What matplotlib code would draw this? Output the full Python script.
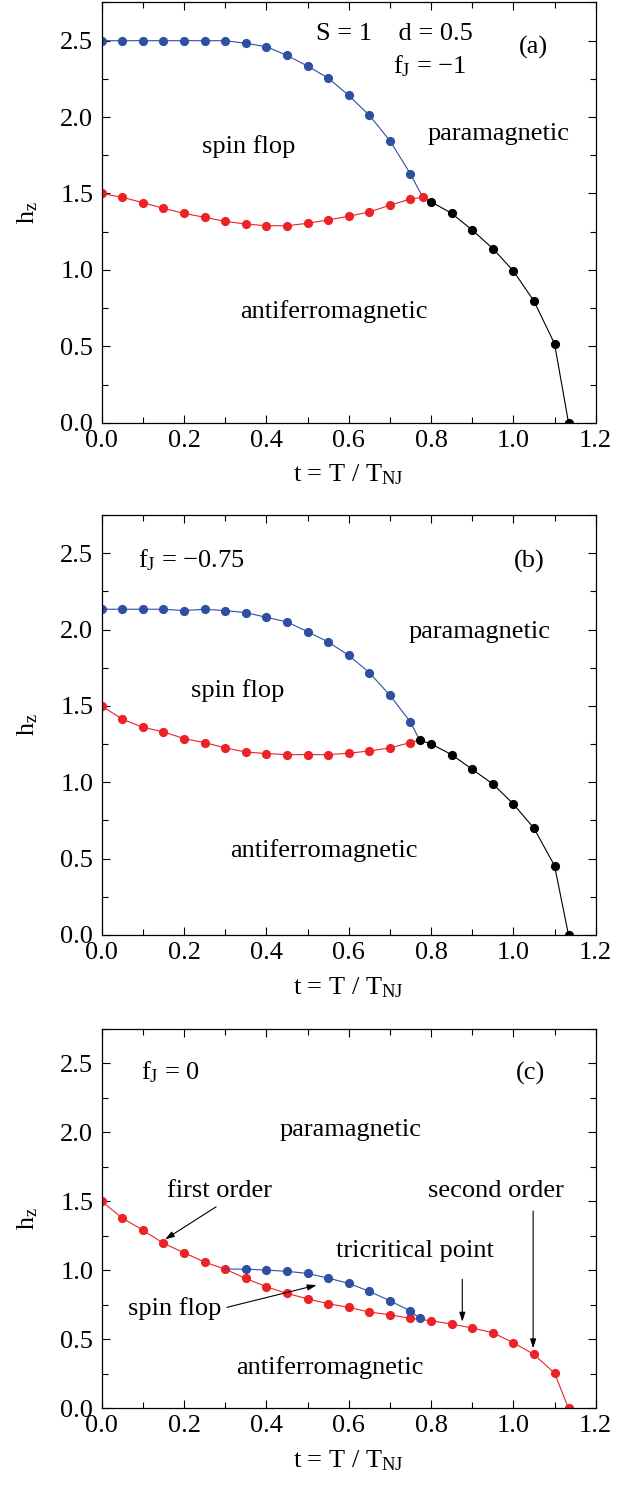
import matplotlib
matplotlib.use("Agg")
import matplotlib.pyplot as plt
from matplotlib.ticker import MultipleLocator

plt.rcParams['font.family'] = ['Liberation Serif', 'DejaVu Serif']
plt.rcParams['mathtext.fontset'] = 'custom'
plt.rcParams['mathtext.rm'] = 'Liberation Serif'
plt.rcParams['mathtext.it'] = 'Liberation Serif:italic'

BLUE = '#2F4FA2'
RED = '#EC2226'
BLACK = '#000000'

# ---------------- panel (a): f_J = -1 ----------------
a_blue_t = [0.0, 0.05, 0.10, 0.15, 0.20, 0.25, 0.30, 0.35, 0.40, 0.45, 0.50,
            0.55, 0.60, 0.65, 0.70, 0.75, 0.78]
a_blue_h = [2.50, 2.50, 2.50, 2.50, 2.50, 2.50, 2.50, 2.483, 2.461, 2.404, 2.334,
            2.256, 2.142, 2.012, 1.846, 1.628, 1.475]
a_red_t = [0.0, 0.05, 0.10, 0.15, 0.20, 0.25, 0.30, 0.35, 0.40, 0.45, 0.50,
           0.55, 0.60, 0.65, 0.70, 0.75, 0.78]
a_red_h = [1.50, 1.475, 1.44, 1.403, 1.370, 1.344, 1.318, 1.300, 1.289, 1.289, 1.305,
           1.327, 1.351, 1.379, 1.423, 1.464, 1.475]
a_black_t = [0.78, 0.80, 0.85, 0.90, 0.95, 1.00, 1.05, 1.10, 1.134]
a_black_h = [1.475, 1.446, 1.370, 1.261, 1.140, 0.993, 0.796, 0.517, 0.0]

# ---------------- panel (b): f_J = -0.75 ----------------
b_blue_t = [0.0, 0.05, 0.10, 0.15, 0.20, 0.25, 0.30, 0.35, 0.40, 0.45, 0.50,
            0.55, 0.60, 0.65, 0.70, 0.75, 0.772]
b_blue_h = [2.133, 2.133, 2.133, 2.133, 2.124, 2.133, 2.124, 2.111, 2.080, 2.050, 1.986,
            1.919, 1.831, 1.718, 1.570, 1.395, 1.277]
b_red_t = [0.0, 0.05, 0.10, 0.15, 0.20, 0.25, 0.30, 0.35, 0.40, 0.45, 0.50,
           0.55, 0.60, 0.65, 0.70, 0.75, 0.772]
b_red_h = [1.50, 1.413, 1.360, 1.330, 1.286, 1.260, 1.225, 1.198, 1.188, 1.181, 1.181,
           1.181, 1.190, 1.205, 1.225, 1.260, 1.277]
b_black_t = [0.772, 0.80, 0.85, 0.90, 0.95, 1.00, 1.05, 1.10, 1.134]
b_black_h = [1.277, 1.251, 1.181, 1.085, 0.989, 0.858, 0.699, 0.454, 0.0]

# ---------------- panel (c): f_J = 0 ----------------
c_red_t = [0.0, 0.05, 0.10, 0.15, 0.20, 0.25, 0.30, 0.35, 0.40, 0.45, 0.50, 0.55,
           0.60, 0.65, 0.70, 0.75, 0.80, 0.85, 0.90, 0.95, 1.00, 1.05, 1.10, 1.134]
c_red_h = [1.50, 1.379, 1.292, 1.196, 1.128, 1.060, 1.009, 0.942, 0.881, 0.833, 0.794, 0.758,
           0.732, 0.698, 0.678, 0.652, 0.635, 0.611, 0.582, 0.548, 0.475, 0.391, 0.255, 0.0]
c_blue_t = [0.30, 0.35, 0.40, 0.45, 0.50, 0.55, 0.60, 0.65, 0.70, 0.75, 0.772]
c_blue_h = [1.009, 1.009, 1.002, 0.993, 0.978, 0.944, 0.906, 0.848, 0.780, 0.705, 0.654]

x_label = r't = T / $\mathregular{T_{NJ}}$'
y_label = r'$\mathregular{h_z}$'

W, H = 631, 1486
fig = plt.figure(figsize=(W / 100, H / 100), dpi=100)

def frac(left, top, right, bottom):
    return [left / W, 1 - bottom / H, (right - left) / W, (bottom - top) / H]

ax_a = fig.add_axes(frac(101.7, 2.5, 595.7, 422.7))
ax_b = fig.add_axes(frac(101.7, 515.0, 595.7, 935.0))
ax_c = fig.add_axes(frac(101.7, 1029.0, 595.7, 1408.3))

line_kw = dict(lw=0.8, marker='o', ms=5.6)

def style(ax):
    ax.set_xlim(0, 1.2)
    ax.set_ylim(0, 2.75)
    ax.xaxis.set_major_locator(MultipleLocator(0.2))
    ax.xaxis.set_minor_locator(MultipleLocator(0.1))
    ax.yaxis.set_major_locator(MultipleLocator(0.5))
    ax.yaxis.set_minor_locator(MultipleLocator(0.25))
    ax.tick_params(which='both', direction='in', top=True, right=True,
                   width=0.8, labelsize=19)
    ax.tick_params(which='major', length=6)
    ax.tick_params(which='minor', length=4)
    ax.tick_params(axis='x', pad=5)
    ax.tick_params(axis='y', pad=6)
    ax.xaxis.set_major_formatter(matplotlib.ticker.FormatStrFormatter('%.1f'))
    ax.yaxis.set_major_formatter(matplotlib.ticker.FormatStrFormatter('%.1f'))
    for s in ax.spines.values():
        s.set_linewidth(0.9)
    ax.set_xlabel(x_label, fontsize=19, labelpad=8)
    ax.set_ylabel(y_label, fontsize=19, labelpad=15)

for ax in (ax_a, ax_b, ax_c):
    style(ax)

FS = 19

# panel (a)
ax_a.plot(a_blue_t, a_blue_h, color=BLUE, mec=BLUE, mfc=BLUE,
          markevery=list(range(len(a_blue_t) - 1)), **line_kw)
ax_a.plot(a_black_t, a_black_h, color=BLACK, mec=BLACK, mfc=BLACK,
          markevery=list(range(1, len(a_black_t))), **line_kw)
ax_a.plot(a_red_t, a_red_h, color=RED, mec=RED, mfc=RED, **line_kw)
ax_a.text(0.712, 2.505, 'S = 1    d = 0.5', fontsize=FS, ha='center', va='baseline')
ax_a.text(0.797, 2.287, r'$\mathregular{f_J}$ = −1', fontsize=FS, ha='center', va='baseline')
ax_a.text(1.048, 2.418, '(a)', fontsize=FS, ha='center', va='baseline')
ax_a.text(0.358, 1.763, 'spin flop', fontsize=FS, ha='center', va='baseline')
ax_a.text(0.965, 1.850, 'paramagnetic', fontsize=FS, ha='center', va='baseline')
ax_a.text(0.565, 0.683, 'antiferromagnetic', fontsize=FS, ha='center', va='baseline')

# panel (b)
ax_b.plot(b_blue_t, b_blue_h, color=BLUE, mec=BLUE, mfc=BLUE,
          markevery=list(range(len(b_blue_t) - 1)), **line_kw)
ax_b.plot(b_red_t, b_red_h, color=RED, mec=RED, mfc=RED,
          markevery=list(range(len(b_red_t) - 1)), **line_kw)
ax_b.plot(b_black_t, b_black_h, color=BLACK, mec=BLACK, mfc=BLACK, **line_kw)
ax_b.text(0.217, 2.408, r'$\mathregular{f_J}$ = −0.75', fontsize=FS, ha='center', va='baseline')
ax_b.text(1.038, 2.408, '(b)', fontsize=FS, ha='center', va='baseline')
ax_b.text(0.917, 1.943, 'paramagnetic', fontsize=FS, ha='center', va='baseline')
ax_b.text(0.330, 1.561, 'spin flop', fontsize=FS, ha='center', va='baseline')
ax_b.text(0.540, 0.513, 'antiferromagnetic', fontsize=FS, ha='center', va='baseline')

# panel (c)
ax_c.plot(c_red_t, c_red_h, color=RED, mec=RED, mfc=RED, **line_kw)
ax_c.plot(c_blue_t, c_blue_h, color=BLUE, mec=BLUE, mfc=BLUE,
          markevery=list(range(1, len(c_blue_t))), **line_kw)
ax_c.text(0.166, 2.384, r'$\mathregular{f_J}$ = 0', fontsize=FS, ha='center', va='baseline')
ax_c.text(1.042, 2.384, '(c)', fontsize=FS, ha='center', va='baseline')
ax_c.text(0.605, 1.973, 'paramagnetic', fontsize=FS, ha='center', va='baseline')
ax_c.text(0.555, 0.250, 'antiferromagnetic', fontsize=FS, ha='center', va='baseline')

arrow_kw = dict(arrowstyle='-|>,head_length=0.55,head_width=0.18', color='black',
                lw=0.8, shrinkA=0, shrinkB=0)
ax_c.annotate('', xy=(0.154, 1.225), xytext=(0.278, 1.461), arrowprops=arrow_kw)
ax_c.text(0.285, 1.533, 'first order', fontsize=FS, ha='center', va='baseline')
ax_c.annotate('', xy=(0.522, 0.893), xytext=(0.304, 0.732), arrowprops=arrow_kw)
ax_c.text(0.178, 0.676, 'spin flop', fontsize=FS, ha='center', va='baseline')
ax_c.annotate('', xy=(0.876, 0.628), xytext=(0.876, 0.935), arrowprops=arrow_kw)
ax_c.text(0.761, 1.099, 'tricritical point', fontsize=FS, ha='center', va='baseline')
ax_c.annotate('', xy=(1.048, 0.435), xytext=(1.048, 1.430), arrowprops=arrow_kw)
ax_c.text(0.958, 1.533, 'second order', fontsize=FS, ha='center', va='baseline')

fig.savefig('out.png', dpi=100)
